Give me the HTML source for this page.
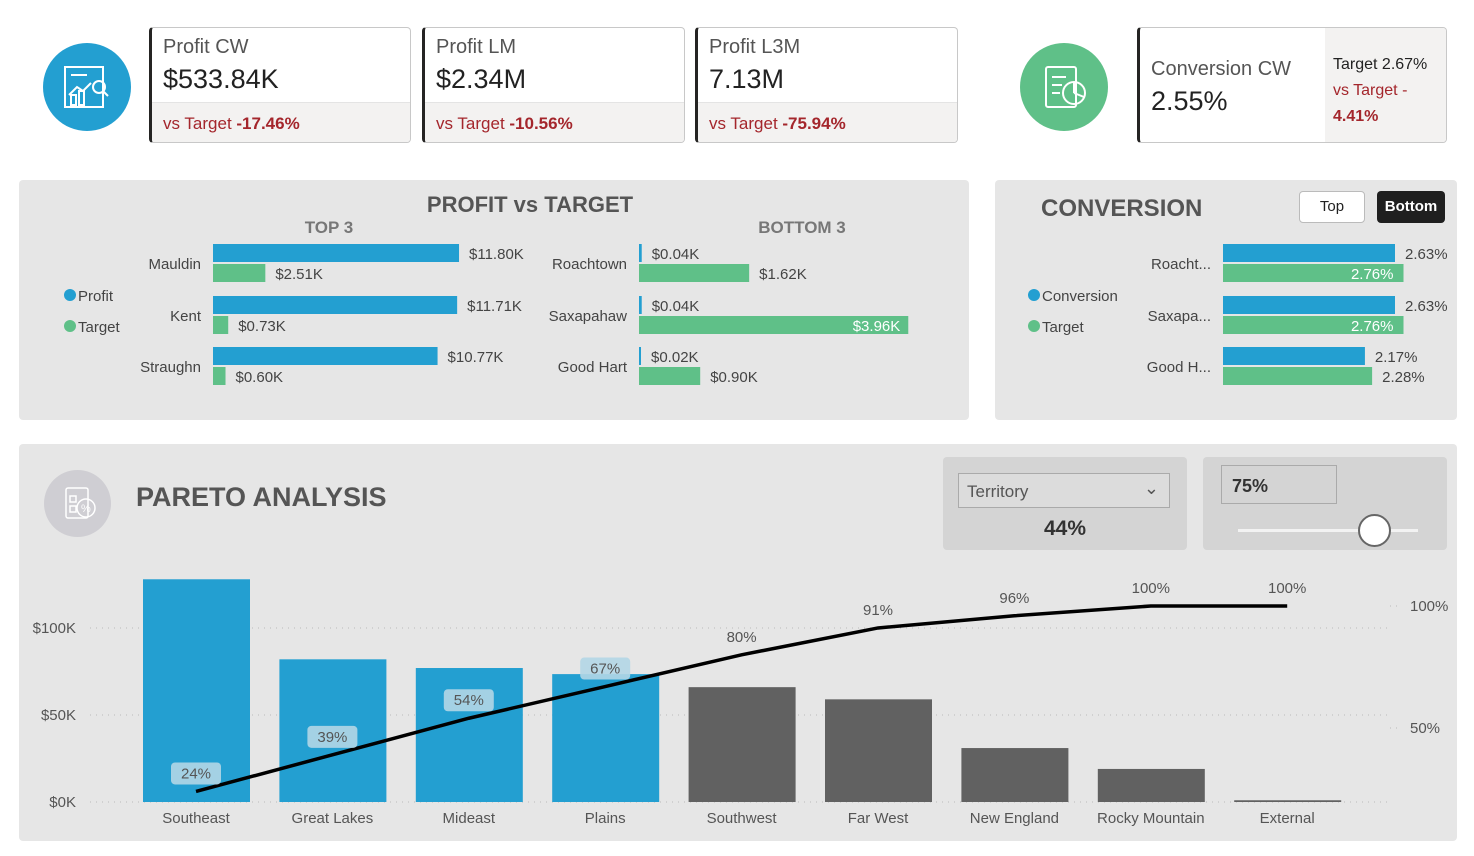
<!DOCTYPE html>
<html><head><meta charset="utf-8"><style>
*{box-sizing:border-box;margin:0;padding:0}
body{width:1474px;height:856px;background:#fff;font-family:"Liberation Sans","DejaVu Sans",sans-serif;position:relative;overflow:hidden;color:#333}
.abs{position:absolute}
.card{position:absolute;top:27px;height:116px;border:1px solid #c8c8c8;border-left:3px solid #252423;border-radius:4px;background:#fff;overflow:hidden}
.card .t{position:absolute;left:11px;top:8px;font-size:20px;color:#555}
.card .v{position:absolute;left:11px;top:36px;font-size:27px;color:#222}
.card .f{position:absolute;left:0;right:0;bottom:0;height:40px;background:#f3f2f1;border-top:1px solid #e4e4e4;font-size:17px;color:#a4262c;padding:11px 0 0 11px}
.panel{position:absolute;background:#e6e6e6;border-radius:4px}
svg text{font-family:"Liberation Sans","DejaVu Sans",sans-serif}
</style></head><body>
<div class="abs" style="left:43px;top:43px;width:88px;height:88px;border-radius:50%;background:#239fd1">
<svg width="88" height="88"><g fill="none" stroke="#fff" stroke-width="2"><rect x="22" y="24" width="38" height="40"/><line x1="28" y1="32" x2="44" y2="32"/><polyline points="26,52 34,44 40,48 48,40"/><rect x="28" y="52" width="5" height="10"/><rect x="36" y="48" width="5" height="14"/><circle cx="56" cy="44" r="6"/><line x1="60" y1="48" x2="65" y2="53"/></g></svg></div>
<div class="card" style="left:149px;width:262px"><div class="t">Profit CW</div><div class="v">$533.84K</div><div class="f">vs Target <b>-17.46%</b></div></div>
<div class="card" style="left:422px;width:263px"><div class="t">Profit LM</div><div class="v">$2.34M</div><div class="f">vs Target <b>-10.56%</b></div></div>
<div class="card" style="left:695px;width:263px"><div class="t">Profit L3M</div><div class="v">7.13M</div><div class="f">vs Target <b>-75.94%</b></div></div>
<div class="abs" style="left:1020px;top:43px;width:88px;height:88px;border-radius:50%;background:#5fc088">
<svg width="88" height="88"><g fill="none" stroke="#fff" stroke-width="2"><rect x="26" y="24" width="30" height="40" rx="2"/><line x1="32" y1="34" x2="46" y2="34"/><line x1="32" y1="42" x2="42" y2="42"/><line x1="32" y1="50" x2="40" y2="50"/><circle cx="54" cy="50" r="11"/><line x1="54" y1="39" x2="54" y2="50"/><line x1="54" y1="50" x2="64" y2="54"/></g></svg></div>
<div class="card" style="left:1137px;width:310px">
<div class="abs" style="left:11px;top:30px;font-size:20px;color:#555">Conversion CW</div>
<div class="abs" style="left:11px;top:58px;font-size:27px;color:#222">2.55%</div>
<div class="abs" style="left:185px;top:0;width:125px;height:116px;background:#f3f2f1;padding:24px 0 0 8px;font-size:16px;line-height:26px;color:#222">Target 2.67%<br><span style="color:#a4262c">vs Target -</span><br><b style="color:#a4262c">4.41%</b></div></div>

<div class="panel" style="left:19px;top:180px;width:950px;height:240px"></div>
<div class="panel" style="left:995px;top:180px;width:462px;height:240px"></div>
<div class="panel" style="left:19px;top:444px;width:1438px;height:397px"></div>

<svg class="abs" id="pvt" style="left:0;top:0" width="1474" height="856"></svg>

<div class="abs" style="left:1299px;top:191px;width:66px;height:32px;background:#fff;border:1px solid #bbb;border-radius:4px;text-align:center;line-height:30px;font-size:15px;color:#222">Top</div>
<div class="abs" style="left:1377px;top:191px;width:68px;height:32px;background:#1f1f1f;border-radius:4px;text-align:center;line-height:32px;font-size:15px;color:#fff;font-weight:bold">Bottom</div>

<div class="abs" style="left:44px;top:470px;width:67px;height:67px;border-radius:50%;background:#cfced3">
<svg width="67" height="67"><g fill="none" stroke="#fff" stroke-width="1.5"><rect x="22" y="18" width="22" height="30" rx="2"/><rect x="26" y="26" width="6" height="6"/><rect x="26" y="36" width="6" height="6"/><circle cx="42" cy="38" r="9"/><text x="37" y="42" font-size="11" fill="#fff" stroke="none">%</text></g></svg></div>
<div class="abs" style="left:136px;top:482px;font-size:27px;font-weight:bold;color:#555">PARETO ANALYSIS</div>

<div class="abs" style="left:943px;top:457px;width:244px;height:93px;background:#d4d4d4;border-radius:4px">
<div class="abs" style="left:15px;top:16px;width:212px;height:35px;border:1px solid #aaa;background:#dcdcdc;font-size:17px;color:#555;padding:8px 0 0 8px">Territory<span style="position:absolute;right:10px;top:4px;font-size:18px">&#8964;</span></div>
<div class="abs" style="left:0;width:244px;top:60px;text-align:center;font-size:21px;font-weight:bold;color:#333">44%</div></div>
<div class="abs" style="left:1203px;top:457px;width:244px;height:93px;background:#d4d4d4;border-radius:4px">
<div class="abs" style="left:18px;top:8px;width:116px;height:39px;border:1px solid #aaa;font-size:18px;font-weight:bold;color:#333;padding:10px 0 0 10px">75%</div>
<div class="abs" style="left:35px;top:72px;width:180px;height:3px;background:#f2f2f2"></div>
<div class="abs" style="left:155px;top:57px;width:33px;height:33px;border-radius:50%;background:#fff;border:2px solid #666"></div></div>

<svg class="abs" id="par" style="left:0;top:0" width="1474" height="856"></svg>

<script>
const top3Names=["Mauldin","Kent","Straughn"];
const top3Profit=[11.80,11.71,10.77];
const top3Target=[2.51,0.73,0.60];
const bot3Names=["Roachtown","Saxapahaw","Good Hart"];
const bot3Profit=[0.04,0.04,0.02];
const bot3Target=[1.62,3.96,0.90];
const convNames=["Roacht...","Saxapa...","Good H..."];
const convValues=[2.63,2.63,2.17];
const convTarget=[2.76,2.76,2.28];
const parCats=["Southeast","Great Lakes","Mideast","Plains","Southwest","Far West","New England","Rocky Mountain","External"];
const parProfit=[128,82,77,73.5,66,59,31,19,1];
const parCum=[24,39,54,67,80,91,96,100,100];
const parYTicks=[0,50,100];
const parY2Ticks=[50,100];
const threshold=75;

const NS="http://www.w3.org/2000/svg";
function mk(svg,tag,a,txt){const e=document.createElementNS(NS,tag);for(const k in a)e.setAttribute(k,a[k]);if(txt!==undefined)e.textContent=txt;svg.appendChild(e);return e;}
const BLUE="#239fd1",GREEN="#5fc088";
const s=document.getElementById('pvt');
let e;
e=mk(s,'text',{x:530,y:212,'text-anchor':'middle','font-size':22,'font-weight':'bold',fill:'#555'},'PROFIT vs TARGET');


mk(s,'text',{x:329,y:233,'text-anchor':'middle','font-size':17,'font-weight':'bold',fill:'#777'},'TOP 3');
mk(s,'text',{x:802,y:233,'text-anchor':'middle','font-size':17,'font-weight':'bold',fill:'#777'},'BOTTOM 3');
mk(s,'text',{x:1041,y:216,'font-size':24,'font-weight':'bold',fill:'#555'},'CONVERSION');
function legend(x,y,c,t){mk(s,'circle',{cx:x,cy:y,r:6,fill:c});mk(s,'text',{x:x+8,y:y+6,'font-size':15,fill:'#444'},t);}
legend(70,295,BLUE,'Profit');legend(70,326,GREEN,'Target');
legend(1034,295,BLUE,'Conversion');legend(1034,326,GREEN,'Target');
const rowY=[244,296,347];
function barGroup(names,p,t,x0,sc,labX,fmtP,fmtT,nameX,insideLast,prefix){
 names.forEach((n,i)=>{const y=rowY[i];
  e=mk(s,'text',{x:nameX,y:y+25,'text-anchor':'end','font-size':15,fill:'#444'},n);
  
  
  const wp=Math.max(p[i]*sc,2),wt=Math.max(t[i]*sc,2);
  e=mk(s,'rect',{x:x0,y:y,width:wp,height:18,fill:BLUE});
  
  
  e=mk(s,'rect',{x:x0,y:y+20,width:wt,height:18,fill:GREEN});
  
  
  mk(s,'text',{x:x0+wp+10,y:y+15,'font-size':15,fill:'#444'},fmtP(p[i]));
  const lt=fmtT(t[i]);
  if(insideLast && t[i]*sc>200) mk(s,'text',{x:x0+wt-8,y:y+35,'text-anchor':'end','font-size':15,fill:'#fff'},lt);
  else mk(s,'text',{x:x0+wt+10,y:y+35,'font-size':15,fill:'#444'},lt);
 });}
const fk=v=>'$'+v.toFixed(2)+'K',fp=v=>v.toFixed(2)+'%';
barGroup(top3Names,top3Profit,top3Target,213,20.85,0,fk,fk,201,false,'top3');
barGroup(bot3Names,bot3Profit,bot3Target,639,68,0,fk,fk,627,true,'bottom3');
convNames.forEach((n,i)=>{const y=rowY[i],x0=1223,sc=65.4;
 mk(s,'text',{x:1211,y:y+25,'text-anchor':'end','font-size':15,fill:'#444'},n);
 const wp=convValues[i]*sc,wt=convTarget[i]*sc;
 e=mk(s,'rect',{x:x0,y:y,width:wp,height:18,fill:BLUE});
 
 
 e=mk(s,'rect',{x:x0,y:y+20,width:wt,height:18,fill:GREEN});
 
 
 mk(s,'text',{x:x0+wp+10,y:y+15,'font-size':15,fill:'#444'},fp(convValues[i]));
 if(i<2) mk(s,'text',{x:x0+wt-10,y:y+35,'text-anchor':'end','font-size':15,fill:'#fff'},fp(convTarget[i]));
 else mk(s,'text',{x:x0+wt+10,y:y+35,'font-size':15,fill:'#444'},fp(convTarget[i]));
});
const p=document.getElementById('par');
const y0=802,ky=1.74,yv=v=>y0-v*ky,yp=v=>850-v*2.44,xc=i=>196+i*136.4;
parYTicks.forEach(t=>{mk(p,'line',{x1:90,x2:1390,y1:yv(t),y2:yv(t),stroke:'#bbb','stroke-dasharray':'1 5'});
 mk(p,'text',{x:76,y:yv(t)+5,'text-anchor':'end','font-size':15,fill:'#555'},'$'+t+'K');});
parY2Ticks.forEach(t=>{mk(p,'line',{x1:1390,x2:1400,y1:yp(t),y2:yp(t),stroke:'#bbb','stroke-dasharray':'1 5'});
 mk(p,'text',{x:1410,y:yp(t)+5,'font-size':15,fill:'#555'},t+'%');});
parCats.forEach((c,i)=>{const col=(parCum[i]<threshold)?BLUE:'#616161';
 e=mk(p,'rect',{x:xc(i)-53,y:yv(parProfit[i]),width:107,height:parProfit[i]*ky,fill:col});
 
 
 mk(p,'text',{x:xc(i),y:823,'text-anchor':'middle','font-size':15,fill:'#555'},c);});
let pts=parCum.map((v,i)=>xc(i)+','+yp(v)).join(' ');
e=mk(p,'polyline',{points:pts,fill:'none',stroke:'#000','stroke-width':3.5});


parCum.forEach((v,i)=>{const y=yp(v)-20;
 if(parCum[i]<threshold){mk(p,'rect',{x:xc(i)-25,y:y-9,width:50,height:22,rx:4,fill:'#b2d6e6',opacity:.9});}
 mk(p,'text',{x:xc(i),y:y+7,'text-anchor':'middle','font-size':15,fill:'#555'},v+'%');});
</script>
</body></html>
